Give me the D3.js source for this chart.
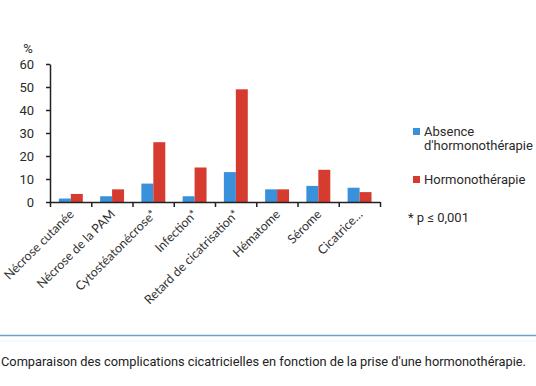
<!DOCTYPE html>
<html>
<head>
  <meta charset="utf-8">
  <title>Complications cicatricielles</title>
  <script src="https://d3js.org/d3.v7.min.js"></script>
  <style>
    body { margin: 0; background: #fff; }
    .tick-label { font-family: Roboto, sans-serif; font-size: 13px; fill: #2a2a2a; }
    .cat-label { font-family: Lato, "Open Sans", sans-serif; font-size: 12.5px; fill: #333; }
    .legend { font-family: Roboto, sans-serif; font-size: 13px; fill: #2a2a2a; }
    .caption { font-family: Roboto, sans-serif; font-size: 12.8px; fill: #222; }
  </style>
</head>
<body>
  <script>
    var categories = ["Nécrose cutanée", "Nécrose de la PAM", "Cytostéatonécrose*", "Infection*",
                      "Retard de cicatrisation*", "Hématome", "Sérome", "Cicatrice…"];
    var seriesNames = ["Absence d'hormonothérapie", "Hormonothérapie"];
    var absence = [1.5, 2.5, 8, 2.5, 13, 5.5, 7, 6.2];
    var hormono = [3.5, 5.5, 26, 15, 49, 5.5, 14, 4.3];
    var yTicks = [0, 10, 20, 30, 40, 50, 60];
    var colors = ["#3a91db", "#d63b30"];

    var W = 536, H = 386;
    var svg = d3.select("body").append("svg")
        .attr("width", W)
        .attr("height", H);

    var x0 = d3.scaleBand().domain(categories).range([50, 380]);
    var x1 = d3.scaleBand().domain(seriesNames)
        .range([x0.bandwidth() * 0.215, x0.bandwidth() * 0.795]);
    var y = d3.scaleLinear().domain([0, 60]).range([202, 64]);

    var data = categories.map(function(c, i) {
      return { cat: c, values: [absence[i], hormono[i]] };
    });

    // bars
    var groups = svg.selectAll(".grp")
        .data(data)
      .enter().append("g")
        .attr("class", "grp")
        .attr("transform", d => "translate(" + x0(d.cat) + ",0)");

    groups.selectAll("rect")
        .data(d => d.values.map((v, j) => ({ s: seriesNames[j], v: v, j: j })))
      .enter().append("rect")
        .attr("x", d => x1(d.s))
        .attr("width", x1.bandwidth())
        .attr("y", d => y(d.v))
        .attr("height", d => y(0) - y(d.v))
        .attr("fill", d => colors[d.j]);

    // y axis
    var yAxis = svg.append("g")
        .attr("transform", "translate(50,0)")
        .call(d3.axisLeft(y).tickValues(yTicks).tickSize(4).tickSizeOuter(0).tickPadding(12));
    yAxis.selectAll("text").attr("class", "tick-label").attr("font-family", null).attr("font-size", null);
    yAxis.selectAll("line, path").attr("stroke", "#222").attr("stroke-width", 1.5);

    svg.append("text")
        .attr("class", "tick-label")
        .attr("x", 28)
        .attr("y", 53)
        .attr("text-anchor", "middle")
        .text("%");

    // x axis: ticks on band boundaries
    var xb = d3.scaleLinear().domain([0, categories.length]).range(x0.range());
    var xAxis = svg.append("g")
        .attr("transform", "translate(0," + y(0) + ")")
        .call(d3.axisBottom(xb).tickValues(d3.range(categories.length + 1)).tickSize(5).tickSizeOuter(0).tickFormat(""));
    xAxis.selectAll("line, path").attr("stroke", "#222").attr("stroke-width", 1.5);

    svg.selectAll(".cat-label")
        .data(categories)
      .enter().append("text")
        .attr("class", "cat-label")
        .attr("text-anchor", "end")
        .attr("transform", d => "translate(" + (x0(d) + x0.bandwidth() / 2 + 4) + "," + 215 + ") rotate(-45)")
        .text(d => d);

    // legend
    var leg = svg.append("g");
    leg.append("rect").attr("x", 413).attr("y", 128).attr("width", 7).attr("height", 7).attr("fill", colors[0]);
    leg.append("text").attr("class", "legend").attr("x", 424).attr("y", 136).text("Absence");
    leg.append("text").attr("class", "legend").attr("x", 424).attr("y", 150).text("d'hormonothérapie");
    leg.append("rect").attr("x", 413).attr("y", 176).attr("width", 7).attr("height", 7).attr("fill", colors[1]);
    leg.append("text").attr("class", "legend").attr("x", 424).attr("y", 184).text("Hormonothérapie");
    leg.append("text").attr("class", "legend").attr("x", 408).attr("y", 222).text("* p ≤ 0,001");

    // bottom rule and caption
    svg.append("line")
        .attr("x1", 0).attr("x2", W).attr("y1", 335.5).attr("y2", 335.5)
        .attr("stroke", "#6f9fcc").attr("stroke-width", 1.5);
    svg.append("line")
        .attr("x1", 0).attr("x2", W).attr("y1", 341).attr("y2", 341)
        .attr("stroke", "#eef2f5").attr("stroke-width", 1);
    svg.append("text")
        .attr("class", "caption")
        .attr("x", 1)
        .attr("y", 366)
        .text("Comparaison des complications cicatricielles en fonction de la prise d'une hormonothérapie.");
  </script>
</body>
</html>
